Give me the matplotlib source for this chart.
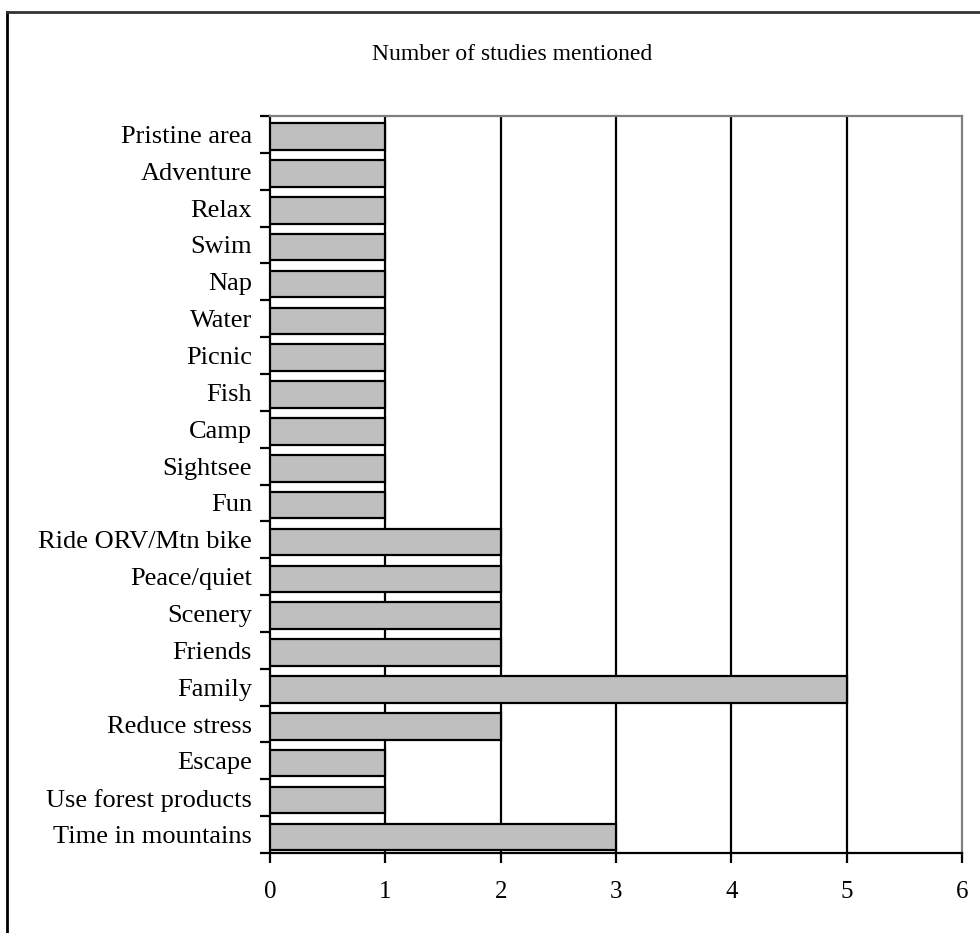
import numpy as np
import matplotlib
matplotlib.use("Agg")
import matplotlib.pyplot as plt
from matplotlib.lines import Line2D

# categories top to bottom
reasons = ["Pristine area", "Adventure", "Relax", "Swim", "Nap", "Water",
           "Picnic", "Fish", "Camp", "Sightsee", "Fun", "Ride ORV/Mtn bike",
           "Peace/quiet", "Scenery", "Friends", "Family", "Reduce stress",
           "Escape", "Use forest products", "Time in mountains"]
studies = [1, 1, 1, 1, 1, 1, 1, 1, 1, 1, 1, 2, 2, 2, 2, 5, 2, 1, 1, 3]
xticks = [0, 1, 2, 3, 4, 5, 6]

plt.rcParams['font.family'] = ['Liberation Serif', 'DejaVu Serif']

fig = plt.figure(figsize=(9.8, 9.33), dpi=100)
ax = fig.add_axes([0.2755, 0.0857, 0.7061, 0.790])

n = len(reasons)
pos = np.arange(n)
ax.barh(pos + 0.06, studies, height=0.72, color='#bfbfbf',
        edgecolor='black', linewidth=1.6, zorder=3)

ax.set_xlim(0, 6)
ax.set_ylim(n - 0.5, -0.5)

for v in xticks[1:-1]:
    ax.axvline(v, color='black', lw=1.6, zorder=1)

ax.set_xticks(xticks)
ax.set_xticklabels([str(v) for v in xticks], fontsize=18)
ax.tick_params(axis='x', direction='out', length=7, width=1.6, pad=13)

ax.set_yticks(np.arange(n + 1) - 0.5)
ax.set_yticklabels([])
ax.set_yticks(pos, minor=True)
ax.set_yticklabels(reasons, minor=True, fontsize=19)
ax.tick_params(axis='y', which='major', direction='out', length=7, width=1.6)
ax.tick_params(axis='y', which='minor', length=0, pad=13)

for s in ['left', 'bottom']:
    ax.spines[s].set_linewidth(1.6)
    ax.spines[s].set_color('black')
for s in ['top', 'right']:
    ax.spines[s].set_linewidth(1.6)
    ax.spines[s].set_color('#808080')

fig.text(512 / 980, 1 - 55 / 933, "Number of studies mentioned",
         ha='center', va='center', fontsize=17)

# outer frame (only top and left visible)
fig.add_artist(Line2D([7 / 980, 7 / 980], [0, 1 - 12 / 933],
                      transform=fig.transFigure, color='black', lw=2))
fig.add_artist(Line2D([7 / 980, 1], [1 - 12 / 933, 1 - 12 / 933],
                      transform=fig.transFigure, color='#333333', lw=2))

fig.savefig("out.png", dpi=100)
